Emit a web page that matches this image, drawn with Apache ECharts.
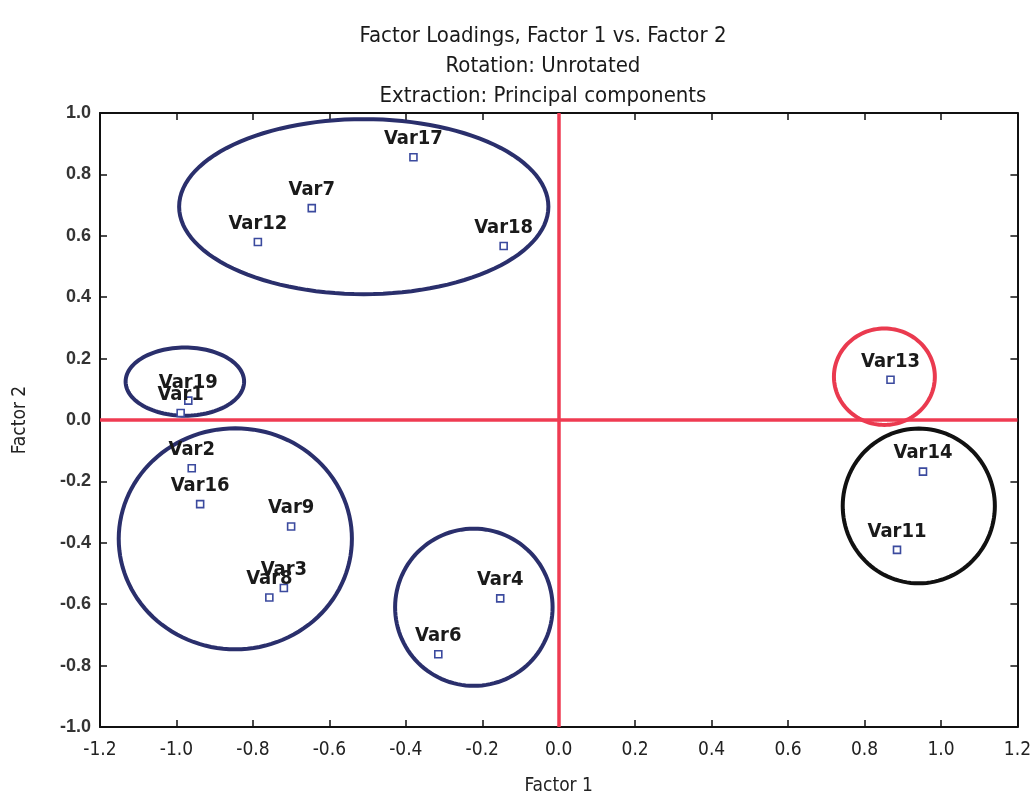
<!DOCTYPE html>
<html>
<head>
<meta charset="utf-8">
<script src="https://cdn.jsdelivr.net/npm/echarts@6/dist/echarts.min.js"></script>
<style>html,body{margin:0;padding:0;background:#fff;}#c{width:1034px;height:805px;}</style>
</head>
<body>
<div id="c"></div>
<script>
// ---- data ----
const varNames = ['Var17','Var7','Var12','Var18','Var19','Var1','Var2','Var16','Var9','Var3','Var8','Var4','Var6','Var13','Var14','Var11'];
const factor1  = [-0.38,-0.646,-0.787,-0.144,-0.969,-0.989,-0.96,-0.938,-0.70,-0.719,-0.757,-0.153,-0.315,0.868,0.953,0.885];
const factor2  = [0.856,0.69,0.58,0.567,0.063,0.023,-0.157,-0.274,-0.347,-0.547,-0.578,-0.581,-0.763,0.131,-0.168,-0.423];
const xTicks = [-1.2,-1.0,-0.8,-0.6,-0.4,-0.2,0.0,0.2,0.4,0.6,0.8,1.0,1.2];
const yTicks = [-1.0,-0.8,-0.6,-0.4,-0.2,0.0,0.2,0.4,0.6,0.8,1.0];
// group ellipses (annotations), in data units
const ellipseCX = [-0.51, -0.978, -0.846, -0.222, 0.852, 0.942];
const ellipseCY = [0.695, 0.125, -0.387, -0.61, 0.141, -0.28];
const ellipseRX = [0.483, 0.155, 0.305, 0.206, 0.132, 0.199];
const ellipseRY = [0.285, 0.111, 0.36, 0.256, 0.157, 0.252];
const ellipseColors = ['#2a2f6c','#2a2f6c','#2a2f6c','#2a2f6c','#ea3a4f','#111111'];

const points = varNames.map((n,i)=>({name:n, value:[factor1[i], factor2[i]]}));
const ellipses = ellipseCX.map((cx,i)=>[cx, ellipseCY[i], ellipseRX[i], ellipseRY[i], i]);

const cond = '"DejaVu Sans Condensed", "Liberation Sans Narrow", "Arial Narrow", sans-serif';
const sans = '"Liberation Sans", Arial, sans-serif';

const chart = echarts.init(document.getElementById('c'));
chart.setOption({
  animation:false,
  backgroundColor:'#fff',
  title:{
    text:'Factor Loadings, Factor 1 vs. Factor 2\nRotation: Unrotated\nExtraction: Principal components',
    left:538, top:16, textAlign:'center',
    textStyle:{fontFamily:cond, fontSize:22, fontWeight:'normal', color:'#1a1a1a', lineHeight:30}
  },
  grid:{left:100, top:113, width:925, height:614},
  xAxis:[{
    type:'value', min:-1.2, max:1.2, interval:0.2,
    name:'Factor 1', nameLocation:'middle', nameGap:50,
    nameTextStyle:{fontFamily:cond, fontSize:19, color:'#222'},
    axisLine:{show:true, onZero:false, lineStyle:{color:'#111', width:2}},
    axisTick:{show:true, inside:true, length:7, lineStyle:{color:'#111', width:1.5}},
    axisLabel:{fontFamily:cond, fontSize:19, color:'#222', margin:14, formatter:v=>v.toFixed(1)},
    splitLine:{show:false}
  },{
    type:'value', min:-1.2, max:1.2, interval:0.2, position:'top',
    axisLine:{show:true, onZero:false, lineStyle:{color:'#111', width:2}},
    axisTick:{show:true, inside:true, length:7, lineStyle:{color:'#111', width:1.5}},
    axisLabel:{show:false}, splitLine:{show:false}
  }],
  yAxis:[{
    type:'value', min:-1.0, max:1.0, interval:0.2,
    name:'Factor 2', nameLocation:'middle', nameGap:70, nameRotate:90,
    nameTextStyle:{fontFamily:cond, fontSize:19, color:'#222'},
    axisLine:{show:true, onZero:false, lineStyle:{color:'#111', width:2}},
    axisTick:{show:true, inside:true, length:7, lineStyle:{color:'#111', width:1.5}},
    axisLabel:{fontFamily:sans, fontSize:18, fontWeight:'bold', color:'#333', margin:9, formatter:v=>v.toFixed(1)},
    splitLine:{show:false}
  },{
    type:'value', min:-1.0, max:1.0, interval:0.2, position:'right',
    axisLine:{show:true, onZero:false, lineStyle:{color:'#111', width:2}},
    axisTick:{show:true, inside:true, length:7, lineStyle:{color:'#111', width:1.5}},
    axisLabel:{show:false}, splitLine:{show:false}
  }],
  series:[{
    type:'scatter', xAxisIndex:0, yAxisIndex:0, z:5,
    data:points,
    symbol:'rect', symbolSize:7,
    itemStyle:{color:'#ffffff', borderColor:'#3b4a9e', borderWidth:1.6, opacity:1},
    label:{show:true, position:'top', distance:4, formatter:p=>p.name,
      fontFamily:cond, fontSize:20, fontWeight:'bold', color:'#1a1a1a'},
    markLine:{
      silent:true, symbol:['none','none'], label:{show:false},
      lineStyle:{color:'#ef3b52', width:3.5, type:'solid'},
      data:[{xAxis:0},{yAxis:0}]
    }
  },{
    type:'custom', xAxisIndex:0, yAxisIndex:0, z:3, silent:true,
    data:ellipses,
    renderItem:function(params, api){
      const c = api.coord([api.value(0), api.value(1)]);
      const e = api.coord([api.value(0)+api.value(2), api.value(1)+api.value(3)]);
      const rx = e[0]-c[0], ry = c[1]-e[1];
      const pts = [];
      for(let k=0;k<120;k++){const t=k/120*Math.PI*2; pts.push([c[0]+rx*Math.cos(t), c[1]+ry*Math.sin(t)]);}
      return {type:'polygon', shape:{points:pts},
        style:{fill:'none', stroke:ellipseColors[api.value(4)], lineWidth:4}};
    }
  }]
});
</script>
</body>
</html>
